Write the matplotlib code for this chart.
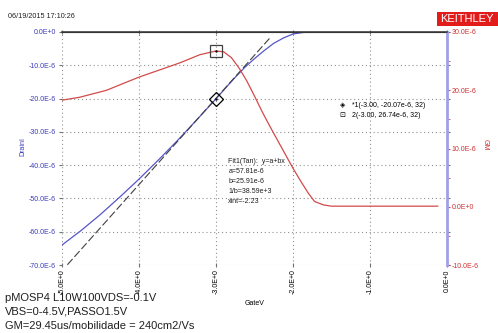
import matplotlib
matplotlib.use("Agg")
import matplotlib.pyplot as plt

plt.rcParams['font.family'] = ['Liberation Sans', 'DejaVu Sans']

# --- data ---
gate_v = [-5.0, -4.75, -4.5, -4.25, -4.0, -3.75, -3.5, -3.25, -3.0,
          -2.875, -2.75, -2.625, -2.5, -2.375, -2.25, -2.125, -2.0,
          -1.875, -1.75, -1.5, -1.0, -0.5, 0.0]
drain_i = [-64.0, -59.6, -54.8, -49.6, -44.2, -38.5, -32.6, -26.4, -20.07,
           -16.8, -13.6, -10.6, -8.0, -5.6, -3.4, -1.8, -0.6,
           -0.15, 0.0, 0.0, 0.0, 0.0, 0.0]

gm_v = [-5.0, -4.77, -4.42, -4.18, -3.99, -3.73, -3.47, -3.21, -3.0,
        -2.9, -2.8, -2.7, -2.6, -2.5, -2.4, -2.3, -2.2, -2.1, -2.0,
        -1.9, -1.8, -1.72, -1.6, -1.5, -1.0, -0.5, -0.12]
gm = [18.3, 18.8, 20.0, 21.3, 22.3, 23.5, 24.7, 26.1, 26.74,
      26.6, 25.6, 23.8, 21.6, 19.0, 16.3, 13.8, 11.4, 9.0, 6.6,
      4.4, 2.3, 0.9, 0.3, 0.1, 0.1, 0.1, 0.1]

fit_a = 57.81   # uA
fit_b = 25.91   # uA/V
fit_x = [-4.93, -2.3]

mark_i = (-3.0, -20.07)
mark_gm = (-3.0, 26.74)

x_ticks = [-5, -4, -3, -2, -1, 0]
x_labels = ["-5.0E+0", "-4.0E+0", "-3.0E+0", "-2.0E+0", "-1.0E+0", "0.0E+0"]
y_ticks = [0, -10, -20, -30, -40, -50, -60, -70]
y_labels = ["0.0E+0", "-10.0E-6", "-20.0E-6", "-30.0E-6", "-40.0E-6",
            "-50.0E-6", "-60.0E-6", "-70.0E-6"]
y2_ticks = [30, 20, 10, 0, -10]
y2_labels = ["30.0E-6", "20.0E-6", "10.0E-6", "0.0E+0", "-10.0E-6"]

fit_lines = ["Fit1(Tan):  y=a+bx", "a=57.81e-6", "b=25.91e-6",
             "1/b=38.59e+3", "xint=-2.23"]
legend_lines = ["*1(-3.00, -20.07e-6, 32)", "2(-3.00, 26.74e-6, 32)"]
notes = ["pMOSP4 L10W100VDS=-0.1V", "VBS=0-4.5V,PASSO1.5V",
         "GM=29.45us/mobilidade = 240cm2/Vs"]

blue = "#5656c8"
red = "#d24a4a"
lbl_blue = "#3a3ab8"
lbl_red = "#d03030"

fig = plt.figure(figsize=(4.98, 3.33), dpi=100)
ax = fig.add_axes([62/498, 1-265/333, 385/498, 233/333])
ax2 = ax.twinx()

ax.set_xlim(-5, 0)
ax.set_ylim(-70, 0)
ax2.set_ylim(-10, 30)

# grid
ax.grid(True, color="#909090", linestyle=(0, (1, 2.5)), linewidth=0.8)
ax.set_axisbelow(True)

# curves
ax.plot(gate_v, drain_i, color=blue, lw=0.9)
fy = [fit_a + fit_b * v for v in fit_x]
ax.plot(fit_x, fy, color="#404040", lw=0.8, linestyle=(0, (7, 2.5)))
ax.plot(*mark_i, marker="D", ms=7, mfc="none", mec="black", mew=0.9)
ax.plot(*mark_i, marker=".", ms=1.5, color="black")

ax2.plot(gm_v, gm, color=red, lw=0.9)
ax2.plot(*mark_gm, marker="s", ms=8.5, mfc="none", mec="#404040", mew=0.9)
ax2.plot(*mark_gm, marker=".", ms=1.5, color="black")

# spines
for s in ["left", "bottom"]:
    ax.spines[s].set_visible(False)
    ax2.spines[s].set_visible(False)
ax.spines["right"].set_visible(False)
ax2.spines["top"].set_color("#404040")
ax2.spines["top"].set_linewidth(1.2)
ax2.spines["right"].set_color("#a0a0e8")
ax2.spines["right"].set_linewidth(2.0)

# ticks
ax.set_xticks(x_ticks)
ax.set_xticklabels(x_labels, rotation=90, fontsize=5, color="black")
ax.set_yticks(y_ticks)
ax.set_yticklabels(y_labels, fontsize=5, color=lbl_blue)
ax.tick_params(axis="y", length=2.5, color="#707070", pad=2, right=True)
ax.tick_params(axis="x", length=2.5, color="#707070", pad=2, top=True,
               direction="inout")
ax2.set_yticks(y2_ticks)
ax2.set_yticklabels(y2_labels, fontsize=5, color=lbl_red)
ax2.set_yticks([25, 15, 5, -5], minor=True)
ax2.tick_params(axis="y", which="both", length=2.5, color=red, pad=1)

ax.set_xlabel("GateV", fontsize=5, labelpad=4)
fig.text(23/498, 1-147/333, "DrainI", fontsize=5, color=lbl_blue,
         rotation=90, ha="center", va="center")
fig.text(485/498, 1-145/333, "GM", fontsize=5, color=lbl_red,
         rotation=270, ha="center", va="center")

# annotations
ty = -39.0
for line in fit_lines:
    ax.text(-2.84, ty, line, fontsize=5, color="#202020", va="center")
    ty -= 3.0
ax2.text(-1.36, 17.3, "\u25c8", fontsize=5, ha="center", va="center")
ax2.text(-1.36, 15.6, "\u22a1", fontsize=5, ha="center", va="center")
ax2.text(-1.24, 17.3, legend_lines[0], fontsize=5, va="center")
ax2.text(-1.24, 15.6, legend_lines[1], fontsize=5, va="center")

fig.text(8/498, 1-16/333, "06/19/2015 17:10:26", fontsize=5.2,
         color="#202020", va="center")
fig.patches.append(plt.Rectangle((437/498, 1-26/333), 61/498, 14/333,
                                 transform=fig.transFigure,
                                 facecolor="#e21b1b", edgecolor="none"))
fig.text(467/498, 1-19/333, "KEITHLEY", fontsize=8, color="white",
         ha="center", va="center")
ny = 1 - 298/333
for line in notes:
    fig.text(5/498, ny, line, fontsize=8, color="#202020", va="center")
    ny -= 14/333

fig.savefig("out.png", dpi=100)
